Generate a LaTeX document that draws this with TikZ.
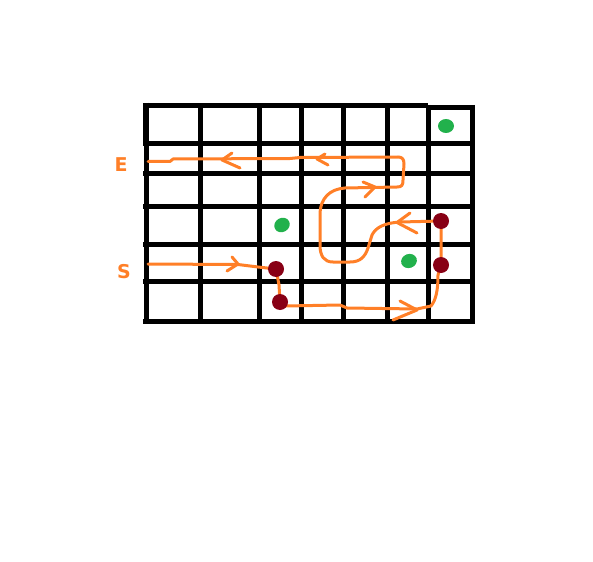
\documentclass[tikz,border=0pt]{standalone}
\usepackage{fontspec}
\setmainfont{DejaVu Sans}
\usetikzlibrary{shapes.geometric}
\definecolor{porange}{HTML}{FF7F27}
\definecolor{pred}{HTML}{880015}
\definecolor{pgreen}{HTML}{22B14C}
\begin{document}
\begin{tikzpicture}[x=1pt,y=-1pt,
  gridline/.style={line width=5pt,black},
  route/.style={line width=3pt,porange,line cap=round,line join=round},
  chev/.style={line width=3pt,porange,line cap=round,line join=round},
  wall/.style={circle,fill=pred,inner sep=0pt,minimum size=16pt},
  goal/.style={ellipse,fill=pgreen,inner sep=0pt,minimum width=16pt,minimum height=14pt},
  lbl/.style={text=porange,font=\fontsize{19}{19}\selectfont\bfseries,inner sep=0pt}]
\useasboundingbox (0,0) rectangle (593,561);
% grid
\draw[gridline] (143,105.5) -- (428,105.5);
\draw[gridline] (426,107.5) -- (474.5,107.5);
\draw[gridline] (146,103) -- (146,324);
\draw[line width=6.5pt] (146,103) -- (146,146);
\foreach \xx in {200.5,259.5,301,343,387.5,428}
  \draw[gridline] (\xx,105) -- (\xx,321.5);
\draw[gridline] (472,105) -- (472,324);
\foreach \yy in {144,174,206,244.5,281}
  \draw[gridline] (143,\yy) -- (474.5,\yy);
\draw[gridline] (143,321.5) -- (474.5,321.5);
% dot centres
\coordinate (r1) at (276,269);
\coordinate (r2) at (280,302);
\coordinate (r3) at (441,221);
\coordinate (r4) at (441,265);
\coordinate (sStart) at (148,264);
\coordinate (eEnd) at (148,161.5);
% route
\draw[route] (sStart) -- (238,264.5) -- (258,267) -- (r1) -- (279,285) -- (r2)
  -- (285,306) -- (340,305) -- (347,308) -- (417,309) -- (431,306)
  .. controls (436,300) and (438,290) .. (438,275) -- (r4) -- (r3)
  -- (400,222) .. controls (385,223) and (376,227) .. (372,235)
  -- (368,248) .. controls (365,257) and (360,262) .. (350,262)
  -- (333,262) .. controls (324,262) and (320,256) .. (320,245)
  -- (320,215) .. controls (320,198) and (330,189) .. (345,188)
  -- (397,187) .. controls (402,187) and (403,185) .. (403,180)
  -- (404,164) .. controls (404,159) and (402,157) .. (398,157)
  -- (300,157.5) -- (290,158.5) -- (173,159) -- (170,161.5) -- (eEnd);
% arrowheads
\draw[chev] (232,257) -- (238,264) -- (227,271);
\draw[chev] (400,301) -- (417,310) -- (393,320);
\draw[chev] (410,213) -- (397,222.5) -- (417,233);
\draw[chev] (363,182) -- (375,187) -- (365,197);
\draw[chev] (325,154) -- (317,159) -- (328,165);
\draw[chev] (232,153) -- (222,160) -- (240,168);
% walls and goals
\node[wall] (w1) at (r1) {};
\node[wall] (w2) at (r2) {};
\node[wall] (w3) at (r3) {};
\node[wall] (w4) at (r4) {};
\node[goal] (g1) at (446,126) {};
\node[goal,rotate=30] (g2) at (282,225) {};
\node[goal,rotate=20] (g3) at (409,261) {};
% labels
\node[lbl] (lE) at (121,165) {E};
\node[lbl] (lS) at (124,272) {S};
\end{tikzpicture}
\end{document}
